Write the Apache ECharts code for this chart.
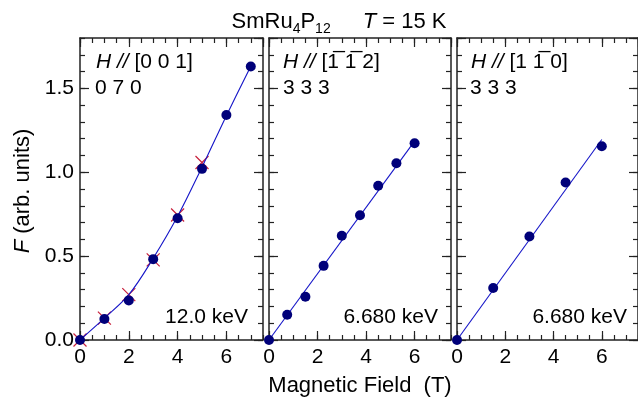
<!DOCTYPE html>
<html>
<head>
<meta charset="utf-8">
<script src="https://cdn.jsdelivr.net/npm/echarts@6/dist/echarts.min.js"></script>
<style>
html,body{margin:0;padding:0;background:#fff;}
#chart{width:638px;height:399px;}
</style>
</head>
<body>
<div id="chart"></div>
<script>
// ---------- data ----------
const xTicks = [0, 2, 4, 6];
const yTicks = [0.0, 0.5, 1.0, 1.5];

// Panel 1: H // [0 0 1], 0 7 0
const p1X = [0, 1, 2, 3, 4, 5, 6, 7];
const p1Y = [0, 0.125, 0.236, 0.482, 0.726, 1.02, 1.341, 1.63];
const p1CrossX = [0, 1, 2, 3, 4, 5];
const p1CrossY = [0, 0.13, 0.27, 0.478, 0.745, 1.058];
const p1FitX = [0, 1, 2, 3, 4, 5, 6, 7];
const p1FitY = [0, 0.13, 0.27, 0.487, 0.737, 1.03, 1.337, 1.632];

// Panel 2: H // [-1 -1 2], 3 3 3
const p2X = [0, 0.75, 1.5, 2.25, 3, 3.75, 4.5, 5.25, 6];
const p2Y = [0, 0.151, 0.258, 0.442, 0.621, 0.744, 0.919, 1.054, 1.173];
const p2FitX = [0, 6];
const p2FitY = [0, 1.185];

// Panel 3: H // [1 -1 0], 3 3 3
const p3X = [0, 1.5, 3, 4.5, 6];
const p3Y = [0, 0.31, 0.617, 0.939, 1.155];
const p3FitX = [0, 6];
const p3FitY = [0, 1.195];

// ---------- helpers ----------
const FONT = 'Liberation Sans, Arial, Helvetica, sans-serif';
const FS = 21;
const FS_BIG = 22;
const AXIS_COLOR = '#222';
const DOT_COLOR = '#00007a';
const FIT_COLOR = '#1414c8';
const CROSS_COLOR = '#c8203c';

const zip = (xs, ys) => xs.map((x, i) => [x, ys[i]]);

const grids = [
  {left: 80, top: 38, width: 183, height: 302},
  {left: 269, top: 38, width: 182, height: 302},
  {left: 457, top: 38, width: 182, height: 302}
];

const tickStyle = len => ({show: true, inside: true, length: len, lineStyle: {color: AXIS_COLOR, width: 1.2}});
const lineOn = {show: true, onZero: false, lineStyle: {color: AXIS_COLOR, width: 1.5}};
const lineOff = {show: false, onZero: false};

const xAxes = [];
const yAxes = [];
grids.forEach((g, gi) => {
  const xBase = {type: 'value', gridIndex: gi, min: 0, max: 7.5, splitLine: {show: false}};
  xAxes.push(Object.assign({}, xBase, {
    position: 'bottom', interval: 2, axisLine: lineOn, axisTick: tickStyle(9),
    axisLabel: {show: true, showMaxLabel: false, margin: 7, fontSize: FS, color: '#000', fontFamily: FONT,
      formatter: v => (xTicks.indexOf(v) >= 0 ? String(v) : '')}
  }));
  xAxes.push(Object.assign({}, xBase, {
    position: 'bottom', interval: 0.5, axisLine: lineOff, axisTick: tickStyle(5), axisLabel: {show: false}
  }));
  xAxes.push(Object.assign({}, xBase, {
    position: 'top', interval: 2, axisLine: lineOn, axisTick: tickStyle(9), axisLabel: {show: false}
  }));
  xAxes.push(Object.assign({}, xBase, {
    position: 'top', interval: 0.5, axisLine: lineOff, axisTick: tickStyle(5), axisLabel: {show: false}
  }));

  const yBase = {type: 'value', gridIndex: gi, min: 0, max: 1.8, splitLine: {show: false}};
  yAxes.push(Object.assign({}, yBase, {
    position: 'left', interval: 0.5, axisLine: lineOn, axisTick: tickStyle(9),
    axisLabel: {show: gi === 0, showMaxLabel: false, margin: 6, fontSize: FS, color: '#000', fontFamily: FONT,
      formatter: v => {
        const hit = yTicks.find(t => Math.abs(t - v) < 1e-6);
        return hit === undefined ? '' : hit.toFixed(1);
      }}
  }));
  yAxes.push(Object.assign({}, yBase, {
    position: 'left', interval: 0.1, axisLine: lineOff, axisTick: tickStyle(5), axisLabel: {show: false}
  }));
  yAxes.push(Object.assign({}, yBase, {
    position: 'right', interval: 0.5, axisLine: lineOn, axisTick: tickStyle(9), axisLabel: {show: false}
  }));
  yAxes.push(Object.assign({}, yBase, {
    position: 'right', interval: 0.1, axisLine: lineOff, axisTick: tickStyle(5), axisLabel: {show: false}
  }));
});

function fitSeries(gi, xs, ys, smooth) {
  return {
    type: 'line', xAxisIndex: gi * 4, yAxisIndex: gi * 4, data: zip(xs, ys),
    showSymbol: false, symbol: 'none', smooth: smooth ? 0.35 : false, clip: false,
    lineStyle: {color: FIT_COLOR, width: 1.1}, z: 3, silent: true
  };
}
function dotSeries(gi, xs, ys) {
  return {
    type: 'scatter', xAxisIndex: gi * 4, yAxisIndex: gi * 4, data: zip(xs, ys),
    symbol: 'circle', symbolSize: 10, clip: false,
    itemStyle: {color: DOT_COLOR, opacity: 1}, z: 4, silent: true
  };
}

const series = [
  {
    type: 'scatter', xAxisIndex: 0, yAxisIndex: 0, data: zip(p1CrossX, p1CrossY),
    symbol: 'path://M0,0L10,10M10,0L0,10', symbolSize: 13, clip: false,
    itemStyle: {color: 'none', borderColor: CROSS_COLOR, borderWidth: 1.2, opacity: 1}, z: 2, silent: true
  },
  fitSeries(0, p1FitX, p1FitY, true),
  dotSeries(0, p1X, p1Y),
  fitSeries(1, p2FitX, p2FitY, false),
  dotSeries(1, p2X, p2Y),
  fitSeries(2, p3FitX, p3FitY, false),
  dotSeries(2, p3X, p3Y)
];

function txt(x, y, text, align, extra, size) {
  const fs = size || FS;
  return Object.assign({
    type: 'text', x: x, y: y, z: 100,
    style: {text: text, fill: '#000', fontFamily: FONT, fontSize: fs, textAlign: align || 'left',
      textVerticalAlign: 'middle', rich: {
        i: {fontStyle: 'italic', fontSize: fs, fontFamily: FONT},
        n: {fontSize: fs, fontFamily: FONT}
      }}
  }, extra || {});
}

const graphic = [
  {
    type: 'text', x: 339, y: 22, z: 100,
    style: {
      text: '{n|SmRu}{s|4}{n|P}{s|12}{w| }{i|T}{n| = 15 K}',
      fill: '#000', textAlign: 'center', textVerticalAlign: 'middle', fontFamily: FONT,
      rich: {
        n: {fontSize: FS_BIG, fontFamily: FONT, lineHeight: 28},
        i: {fontSize: FS_BIG, fontFamily: FONT, fontStyle: 'italic', lineHeight: 28},
        s: {fontSize: 14, fontFamily: FONT, lineHeight: 14, verticalAlign: 'bottom'},
        w: {fontSize: FS_BIG, width: 32, lineHeight: 28}
      }
    }
  },
  txt(96, 62, '{i|H //} [0 0 1]'),
  txt(95, 88, '0 7 0'),
  txt(283, 62, '{i|H //} [1\u0305 1\u0305 2]'),
  txt(283, 88, '3 3 3'),
  txt(471, 62, '{i|H //} [1 1\u0305 0]'),
  txt(470, 88, '3 3 3'),
  txt(248, 317, '12.0 keV', 'right'),
  txt(438, 317, '6.680 keV', 'right'),
  txt(627, 317, '6.680 keV', 'right'),
  txt(360, 386, 'Magnetic Field  (T)', 'center', null, FS_BIG),
  txt(23, 191, '{i|F} (arb. units)', 'center', {rotation: Math.PI / 2}, FS_BIG)
];

const chart = echarts.init(document.getElementById('chart'), null, {renderer: 'canvas'});
chart.setOption({
  animation: false,
  backgroundColor: '#fff',
  grid: grids,
  xAxis: xAxes,
  yAxis: yAxes,
  series: series,
  graphic: graphic
});
</script>
</body>
</html>
